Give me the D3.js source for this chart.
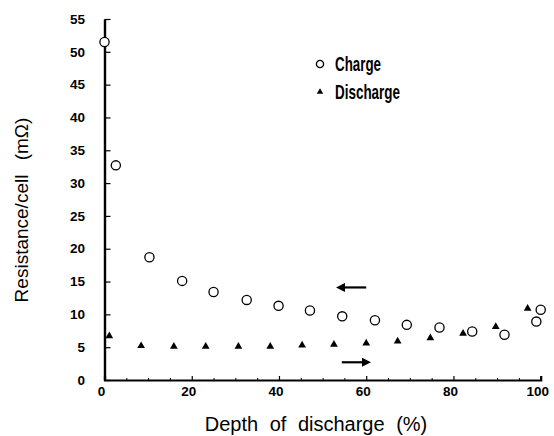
<!DOCTYPE html>
<html>
<head>
<meta charset="utf-8">
<script src="https://cdn.jsdelivr.net/npm/d3@7"></script>
<style>
	body { margin: 0; background: #fff; }
	.tickLabel { font-family: "Liberation Sans", Arial, sans-serif; font-weight: bold; font-size: 13.5px; }
	.axisTitle { font-family: "Liberation Sans", Arial, sans-serif; font-size: 20px; }
	.legendText { font-family: "Liberation Sans Narrow", "Liberation Sans", Arial, sans-serif; font-weight: bold; font-size: 21px; }
</style>
</head>
<body>
<div id="chart"></div>
<script>
// depth of discharge (%) and resistance per cell (mOhm)
let chargeDepth = [0, 2.6, 10.3, 17.8, 25.0, 32.6, 39.9, 47.1, 54.5, 62.0, 69.3, 76.8, 84.3, 91.7, 99.0, 100];
let chargeRes = [51.5, 32.7, 18.7, 15.1, 13.4, 12.2, 11.3, 10.6, 9.7, 9.1, 8.4, 8.0, 7.4, 6.9, 8.9, 10.7];

let dischargeDepth = [1.1, 8.4, 15.9, 23.2, 30.7, 38.0, 45.3, 52.6, 60.0, 67.2, 74.7, 82.2, 89.7, 97.0];
let dischargeRes = [6.7, 5.2, 5.1, 5.1, 5.1, 5.1, 5.3, 5.4, 5.6, 5.9, 6.4, 7.1, 8.1, 10.9];

let xTicks = [0, 20, 40, 60, 80, 100];
let xMinorTicks = [5, 10, 15, 25, 30, 35, 45, 50, 55, 65, 70, 75, 85, 90, 95];
let yTicks = [0, 5, 10, 15, 20, 25, 30, 35, 40, 45, 50, 55];

// arrows: [x start, x end, y]
let chargeArrow = [60, 53.4, 14.1];
let dischargeArrow = [54.4, 60.8, 2.7];

let seriesNames = ["Charge", "Discharge"];

let width = 554, height = 436;

let svg = d3.select("#chart")
	.append("svg")
	.attr("width", width)
	.attr("height", height);

let x = d3.scaleLinear().domain([0, 100]).range([104.5, 540.7]);
let y = d3.scaleLinear().domain([0, 55]).range([380, 19]);

//arrow head
svg.append("defs").append("marker")
	.attr("id", "head")
	.attr("viewBox", "0 0 10 10")
	.attr("refX", 2)
	.attr("refY", 5)
	.attr("markerWidth", 4.2)
	.attr("markerHeight", 4.2)
	.attr("orient", "auto")
	.append("path")
	.attr("d", "M0,0 L10,5 L0,10 Z")
	.attr("fill", "#000");

// x axis
svg.append("g")
	.attr("transform", "translate(0," + y(0) + ")")
	.call(d3.axisBottom(x).tickValues(xTicks).tickSize(-4).tickFormat(""))
	.call(g => g.select(".domain").attr("stroke-width", 2.2))
	.call(g => g.selectAll(".tick line").attr("stroke-width", 1.2));

svg.append("g")
	.attr("transform", "translate(0," + y(0) + ")")
	.call(d3.axisBottom(x).tickValues(xMinorTicks).tickSize(-2).tickFormat(""))
	.call(g => g.select(".domain").remove())
	.call(g => g.selectAll(".tick line").attr("stroke-width", 1));

svg.selectAll(".xLabel")
	.data(xTicks)
	.enter()
	.append("text")
	.attr("class", "tickLabel")
	.attr("x", d => x(d) - 3)
	.attr("y", y(0) + 16)
	.attr("text-anchor", "middle")
	.text(d => d);

// y axis
svg.append("g")
	.attr("transform", "translate(" + x(0) + ",0)")
	.call(d3.axisLeft(y).tickValues(yTicks).tickSize(-6).tickSizeOuter(0).tickFormat(""))
	.call(g => g.select(".domain").attr("stroke-width", 2.4))
	.call(g => g.selectAll(".tick line").attr("stroke-width", 1.2));

svg.selectAll(".yLabel")
	.data(yTicks)
	.enter()
	.append("text")
	.attr("class", "tickLabel")
	.attr("x", 85)
	.attr("y", d => y(d) + 4.7)
	.attr("text-anchor", "end")
	.text(d => d);

// axis titles
svg.append("text")
	.attr("class", "axisTitle")
	.attr("x", 316)
	.attr("y", 431)
	.attr("text-anchor", "middle")
	.style("word-spacing", "6px")
	.text("Depth of discharge (%)");

svg.append("text")
	.attr("class", "axisTitle")
	.attr("transform", "translate(28,210) rotate(-90)")
	.attr("text-anchor", "middle")
	.style("font-size", "19px")
	.style("word-spacing", "9px")
	.text("Resistance/cell (mΩ)");

// charge points
let charge = chargeDepth.map((d, i) => ({depth: d, res: chargeRes[i]}));
let discharge = dischargeDepth.map((d, i) => ({depth: d, res: dischargeRes[i]}));

svg.selectAll(".charge")
	.data(charge)
	.enter()
	.append("circle")
	.attr("cx", d => x(d.depth))
	.attr("cy", d => y(d.res))
	.attr("r", 4.6)
	.attr("fill", "#fff")
	.attr("stroke", "#000")
	.attr("stroke-width", 1.3);

svg.selectAll(".discharge")
	.data(discharge)
	.enter()
	.append("path")
	.attr("transform", d => "translate(" + x(d.depth) + "," + y(d.res) + ")")
	.attr("d", d3.symbol().type(d3.symbolTriangle).size(26))
	.attr("fill", "#000");

// arrows
[chargeArrow, dischargeArrow].forEach(a => {
	svg.append("line")
		.attr("x1", x(a[0]))
		.attr("x2", x(a[1]) + (a[1] < a[0] ? 6 : -6))
		.attr("y1", y(a[2]))
		.attr("y2", y(a[2]))
		.attr("stroke", "#000")
		.attr("stroke-width", 2.2)
		.attr("marker-end", "url(#head)");
});

// legend
let legend = svg.selectAll(".legend")
	.data(seriesNames)
	.enter()
	.append("g")
	.attr("transform", (d, i) => "translate(320," + (64 + i * 28) + ")");

legend.filter((d, i) => i === 0)
	.append("circle")
	.attr("r", 3.6)
	.attr("fill", "#fff")
	.attr("stroke", "#000")
	.attr("stroke-width", 1.3);

legend.filter((d, i) => i === 1)
	.append("path")
	.attr("d", d3.symbol().type(d3.symbolTriangle).size(18))
	.attr("fill", "#000");

legend.append("text")
	.attr("class", "legendText")
	.attr("x", 15)
	.attr("y", 6.5)
	.attr("textLength", (d, i) => i === 0 ? 46 : 65)
	.attr("lengthAdjust", "spacingAndGlyphs")
	.text(d => d);
</script>
</body>
</html>
